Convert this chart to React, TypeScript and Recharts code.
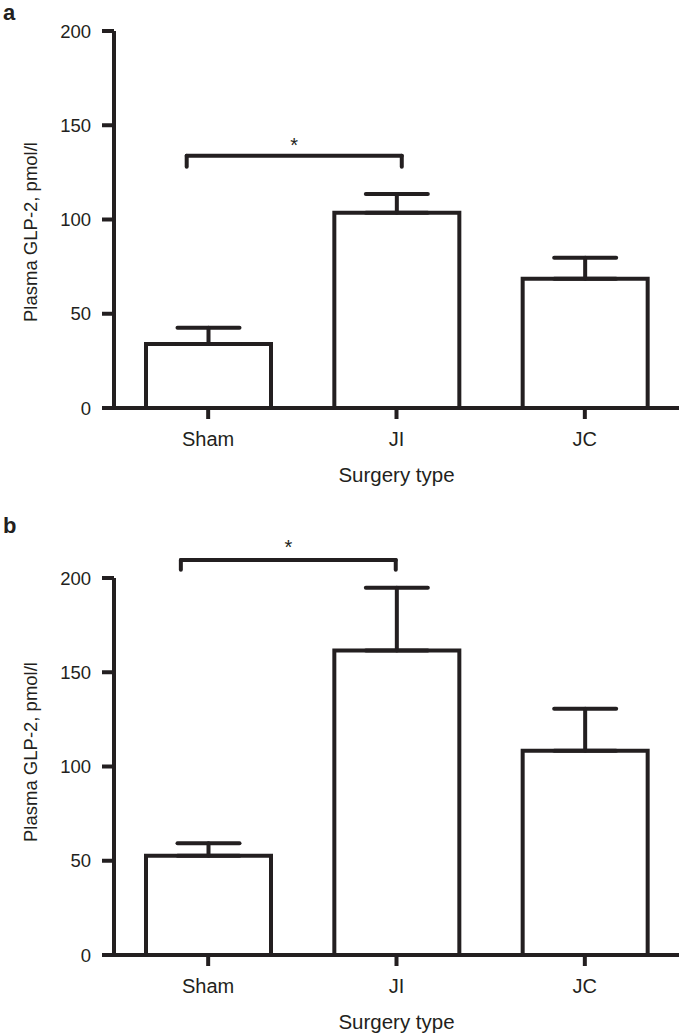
import React from 'react';
import { BarChart, Bar, XAxis, YAxis, ErrorBar, ReferenceLine, Label } from 'recharts';

const categories = ['Sham', 'JI', 'JC'];
const positions = [0.5, 1.5, 2.5];
const meansA = [34, 103.6, 68.6];
const errorsA = [8.6, 9.9, 11.1];
const meansB = [52.7, 161.5, 108.3];
const errorsB = [6.6, 33.3, 22.3];
const yTicks = [0, 50, 100, 150, 200];
// significance brackets: x on a 0..3 position scale (left end, right end), y (leg bottom, bar top)
const bracketXA = [0.386, 1.528];
const bracketYA = [128, 133.8];
const bracketXB = [0.355, 1.496];
const bracketYB = [204.4, 209.5];

const INK = '#231f20';
const FONT = '"Liberation Sans", Arial, Helvetica, sans-serif';

type PanelProps = {
  means: number[];
  errors: number[];
  bracketX: number[];
  bracketY: number[];
  top: number;
  height: number;
  marginTop: number;
  yLabelCenter: number;
  starOffset: number;
};

function Panel({ means, errors, bracketX, bracketY, top, height, marginTop, yLabelCenter, starOffset }: PanelProps) {
  const data = categories.map((c, i) => ({ name: c, pos: positions[i], value: means[i], err: [0, errors[i]] }));
  const lineProps = { stroke: INK, strokeWidth: 4, strokeLinecap: 'round' as const, ifOverflow: 'visible' as const, xAxisId: 'pos' };
  return (
    <div style={{ position: 'absolute', left: 0, top }}>
      <BarChart width={685} height={height} data={data} margin={{ top: marginTop, right: 6, left: 0, bottom: 0 }}>
        <XAxis
          dataKey="name"
          height={79}
          tickSize={11}
          tickMargin={13}
          axisLine={{ stroke: INK, strokeWidth: 4 }}
          tickLine={{ stroke: INK, strokeWidth: 4 }}
          tick={{ fill: INK, fontSize: 20, fontFamily: FONT }}
        >
          <Label value="Surgery type" position="insideBottom" offset={5.5} fill={INK} fontSize={20.5} fontFamily={FONT} />
        </XAxis>
        <XAxis xAxisId="pos" dataKey="pos" type="number" domain={[0, 3]} hide allowDataOverflow />
        <YAxis
          width={114}
          domain={[0, 200]}
          ticks={yTicks}
          interval={0}
          tickSize={12}
          tickMargin={11}
          axisLine={{ stroke: INK, strokeWidth: 4 }}
          tickLine={{ stroke: INK, strokeWidth: 4 }}
          tick={{ fill: INK, fontSize: 18.5, fontFamily: FONT }}
        >
          <Label
            content={() => (
              <text
                x={37}
                y={yLabelCenter}
                transform={`rotate(-90, 37, ${yLabelCenter})`}
                textAnchor="middle"
                fill={INK}
                fontSize={18.5}
                fontFamily={FONT}
              >
                Plasma GLP-2, pmol/l
              </text>
            )}
          />
        </YAxis>
        <Bar dataKey="value" fill="#ffffff" stroke={INK} strokeWidth={4} barSize={125} isAnimationActive={false}>
          <ErrorBar dataKey="err" width={31} stroke={INK} strokeWidth={4} strokeLinecap="round" direction="y" />
        </Bar>
        <ReferenceLine {...lineProps} segment={[{ x: bracketX[0], y: bracketY[0] }, { x: bracketX[0], y: bracketY[1] }]} />
        <ReferenceLine {...lineProps} segment={[{ x: bracketX[1], y: bracketY[0] }, { x: bracketX[1], y: bracketY[1] }]} />
        <ReferenceLine
          {...lineProps}
          segment={[{ x: bracketX[0], y: bracketY[1] }, { x: bracketX[1], y: bracketY[1] }]}
          label={{ value: '*', position: 'top', offset: starOffset, fill: INK, fontSize: 20, fontFamily: FONT }}
        />
      </BarChart>
    </div>
  );
}

const letterStyle: React.CSSProperties = {
  position: 'absolute',
  left: 3,
  fontFamily: FONT,
  fontWeight: 'bold',
  fontSize: 22,
  lineHeight: 'normal',
  color: INK,
};

export default function App() {
  return (
    <div style={{ position: 'absolute', left: 0, top: 0, width: 685, height: 1034, background: '#fff', overflow: 'hidden' }}>
      <Panel means={meansA} errors={errorsA} bracketX={bracketXA} bracketY={bracketYA} top={0} height={487} marginTop={31} yLabelCenter={232} starOffset={4} />
      <Panel means={meansB} errors={errorsB} bracketX={bracketXB} bracketY={bracketYB} top={500} height={534} marginTop={78} yLabelCenter={252} starOffset={6} />
      <div style={{ ...letterStyle, top: 0 }}>a</div>
      <div style={{ ...letterStyle, top: 513 }}>b</div>
    </div>
  );
}
